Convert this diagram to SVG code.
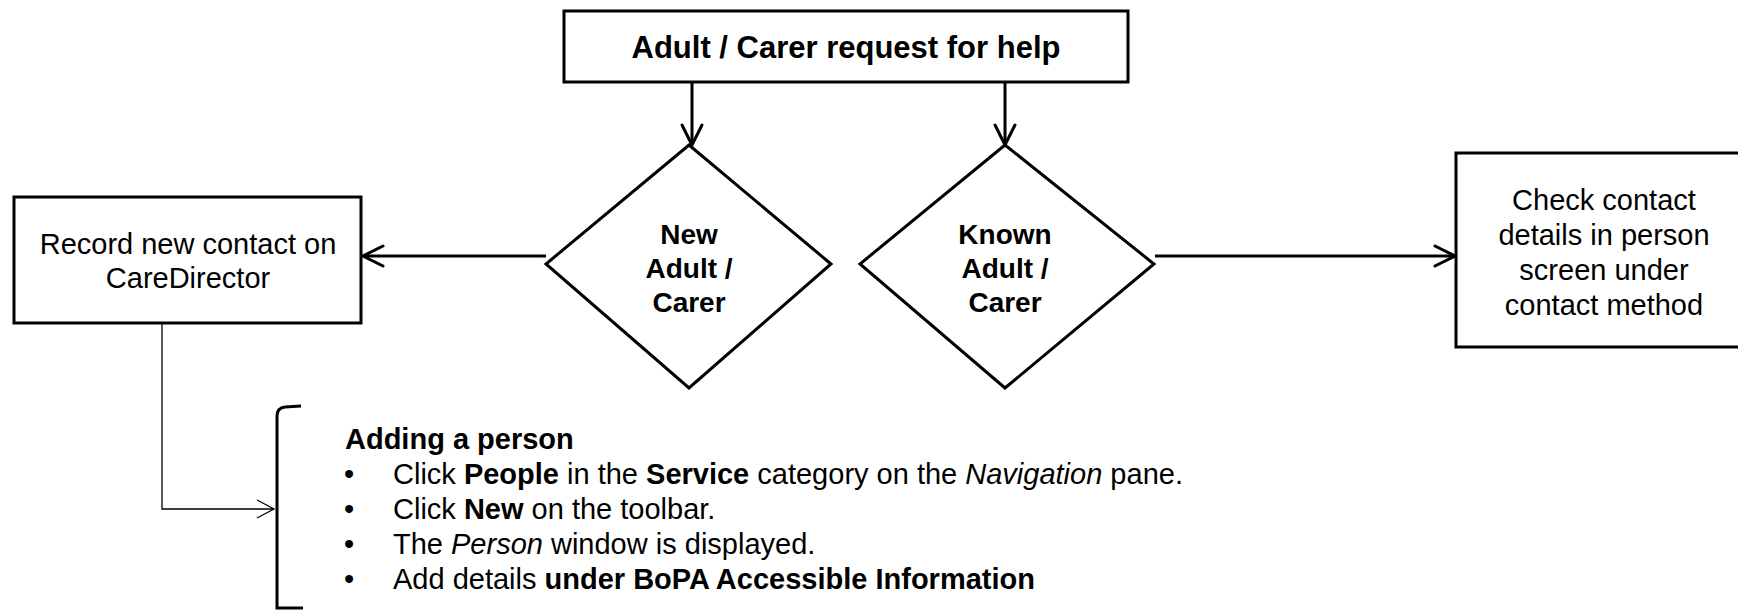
<svg xmlns="http://www.w3.org/2000/svg" width="1738" height="614" viewBox="0 0 1738 614">
  <style>
    .box { fill: #fff; stroke: #000; stroke-width: 3; }
    .txt { font-family: "Liberation Sans", Arial, sans-serif; fill: #000; }
    .lbl { font-size: 29px; text-anchor: middle; }
    .dlbl { font-size: 28px; font-weight: bold; text-anchor: middle; }
    .list { font-size: 29px; }
    .b { font-weight: bold; }
    .i { font-style: italic; }
    .edge { fill: none; stroke: #000; stroke-width: 3; }
    .thin { fill: none; stroke: #000; stroke-width: 1.3; }
  </style>
  <defs>
    <marker id="arrow" viewBox="-23 -12 25 24" refX="0" refY="0" markerWidth="25" markerHeight="24" markerUnits="userSpaceOnUse" orient="auto">
      <path d="M-20,-10 L0,0 L-20,10" fill="none" stroke="#000" stroke-width="3" stroke-linecap="round" stroke-linejoin="miter"/>
    </marker>
    <marker id="arrowThin" viewBox="-20 -11 22 22" refX="0" refY="0" markerWidth="22" markerHeight="22" markerUnits="userSpaceOnUse" orient="auto">
      <path d="M-17,-9 L0,0 L-17,9" fill="none" stroke="#000" stroke-width="1.3"/>
    </marker>
  </defs>

  <!-- connectors -->
  <g id="connectors">
    <line class="edge" x1="692" y1="82" x2="692" y2="145" marker-end="url(#arrow)"/>
    <line class="edge" x1="1005" y1="82" x2="1005" y2="145" marker-end="url(#arrow)"/>
    <line class="edge" x1="546" y1="256" x2="363" y2="256" marker-end="url(#arrow)"/>
    <line class="edge" x1="1155" y1="256" x2="1455" y2="256" marker-end="url(#arrow)"/>
    <polyline class="thin" points="162,323 162,509 274,509" marker-end="url(#arrowThin)"/>
  </g>

  <g id="request">
    <rect class="box" x="564" y="11" width="564" height="71"/>
    <text class="txt" x="846" y="58" font-size="31" font-weight="bold" text-anchor="middle">Adult / Carer request for help</text>
  </g>

  <g id="new-adult">
    <polygon class="box" points="689,145 831,264 689,388 546,264"/>
    <text class="txt dlbl" x="689" y="244">New</text>
    <text class="txt dlbl" x="689" y="278">Adult /</text>
    <text class="txt dlbl" x="689" y="312">Carer</text>
  </g>

  <g id="known-adult">
    <polygon class="box" points="1005,145 1154,264 1005,388 860,264"/>
    <text class="txt dlbl" x="1005" y="244">Known</text>
    <text class="txt dlbl" x="1005" y="278">Adult /</text>
    <text class="txt dlbl" x="1005" y="312">Carer</text>
  </g>

  <g id="record-contact">
    <rect class="box" x="14" y="197" width="347" height="126"/>
    <text class="txt lbl" x="188" y="254">Record new contact on</text>
    <text class="txt lbl" x="188" y="288">CareDirector</text>
  </g>

  <g id="check-contact">
    <rect class="box" x="1456" y="153" width="300" height="194"/>
    <text class="txt lbl" x="1604" y="210">Check contact</text>
    <text class="txt lbl" x="1604" y="245">details in person</text>
    <text class="txt lbl" x="1604" y="280">screen under</text>
    <text class="txt lbl" x="1604" y="315">contact method</text>
  </g>

  <g id="adding-person">
    <path class="edge" d="M301,406 L285,407 Q277,408 277,416 L277,608 L303,608"/>
    <text class="txt list b" x="345" y="449">Adding a person</text>
    <text class="txt list" x="344" y="484">•</text>
    <text class="txt list" x="393" y="484">Click <tspan class="b">People</tspan> in the <tspan class="b">Service</tspan> category on the <tspan class="i">Navigation</tspan> pane.</text>
    <text class="txt list" x="344" y="519">•</text>
    <text class="txt list" x="393" y="519">Click <tspan class="b">New</tspan> on the toolbar.</text>
    <text class="txt list" x="344" y="554">•</text>
    <text class="txt list" x="393" y="554">The <tspan class="i">Person</tspan> window is displayed.</text>
    <text class="txt list" x="344" y="589">•</text>
    <text class="txt list" x="393" y="589">Add details <tspan class="b">under BoPA Accessible Information</tspan></text>
  </g>
</svg>
